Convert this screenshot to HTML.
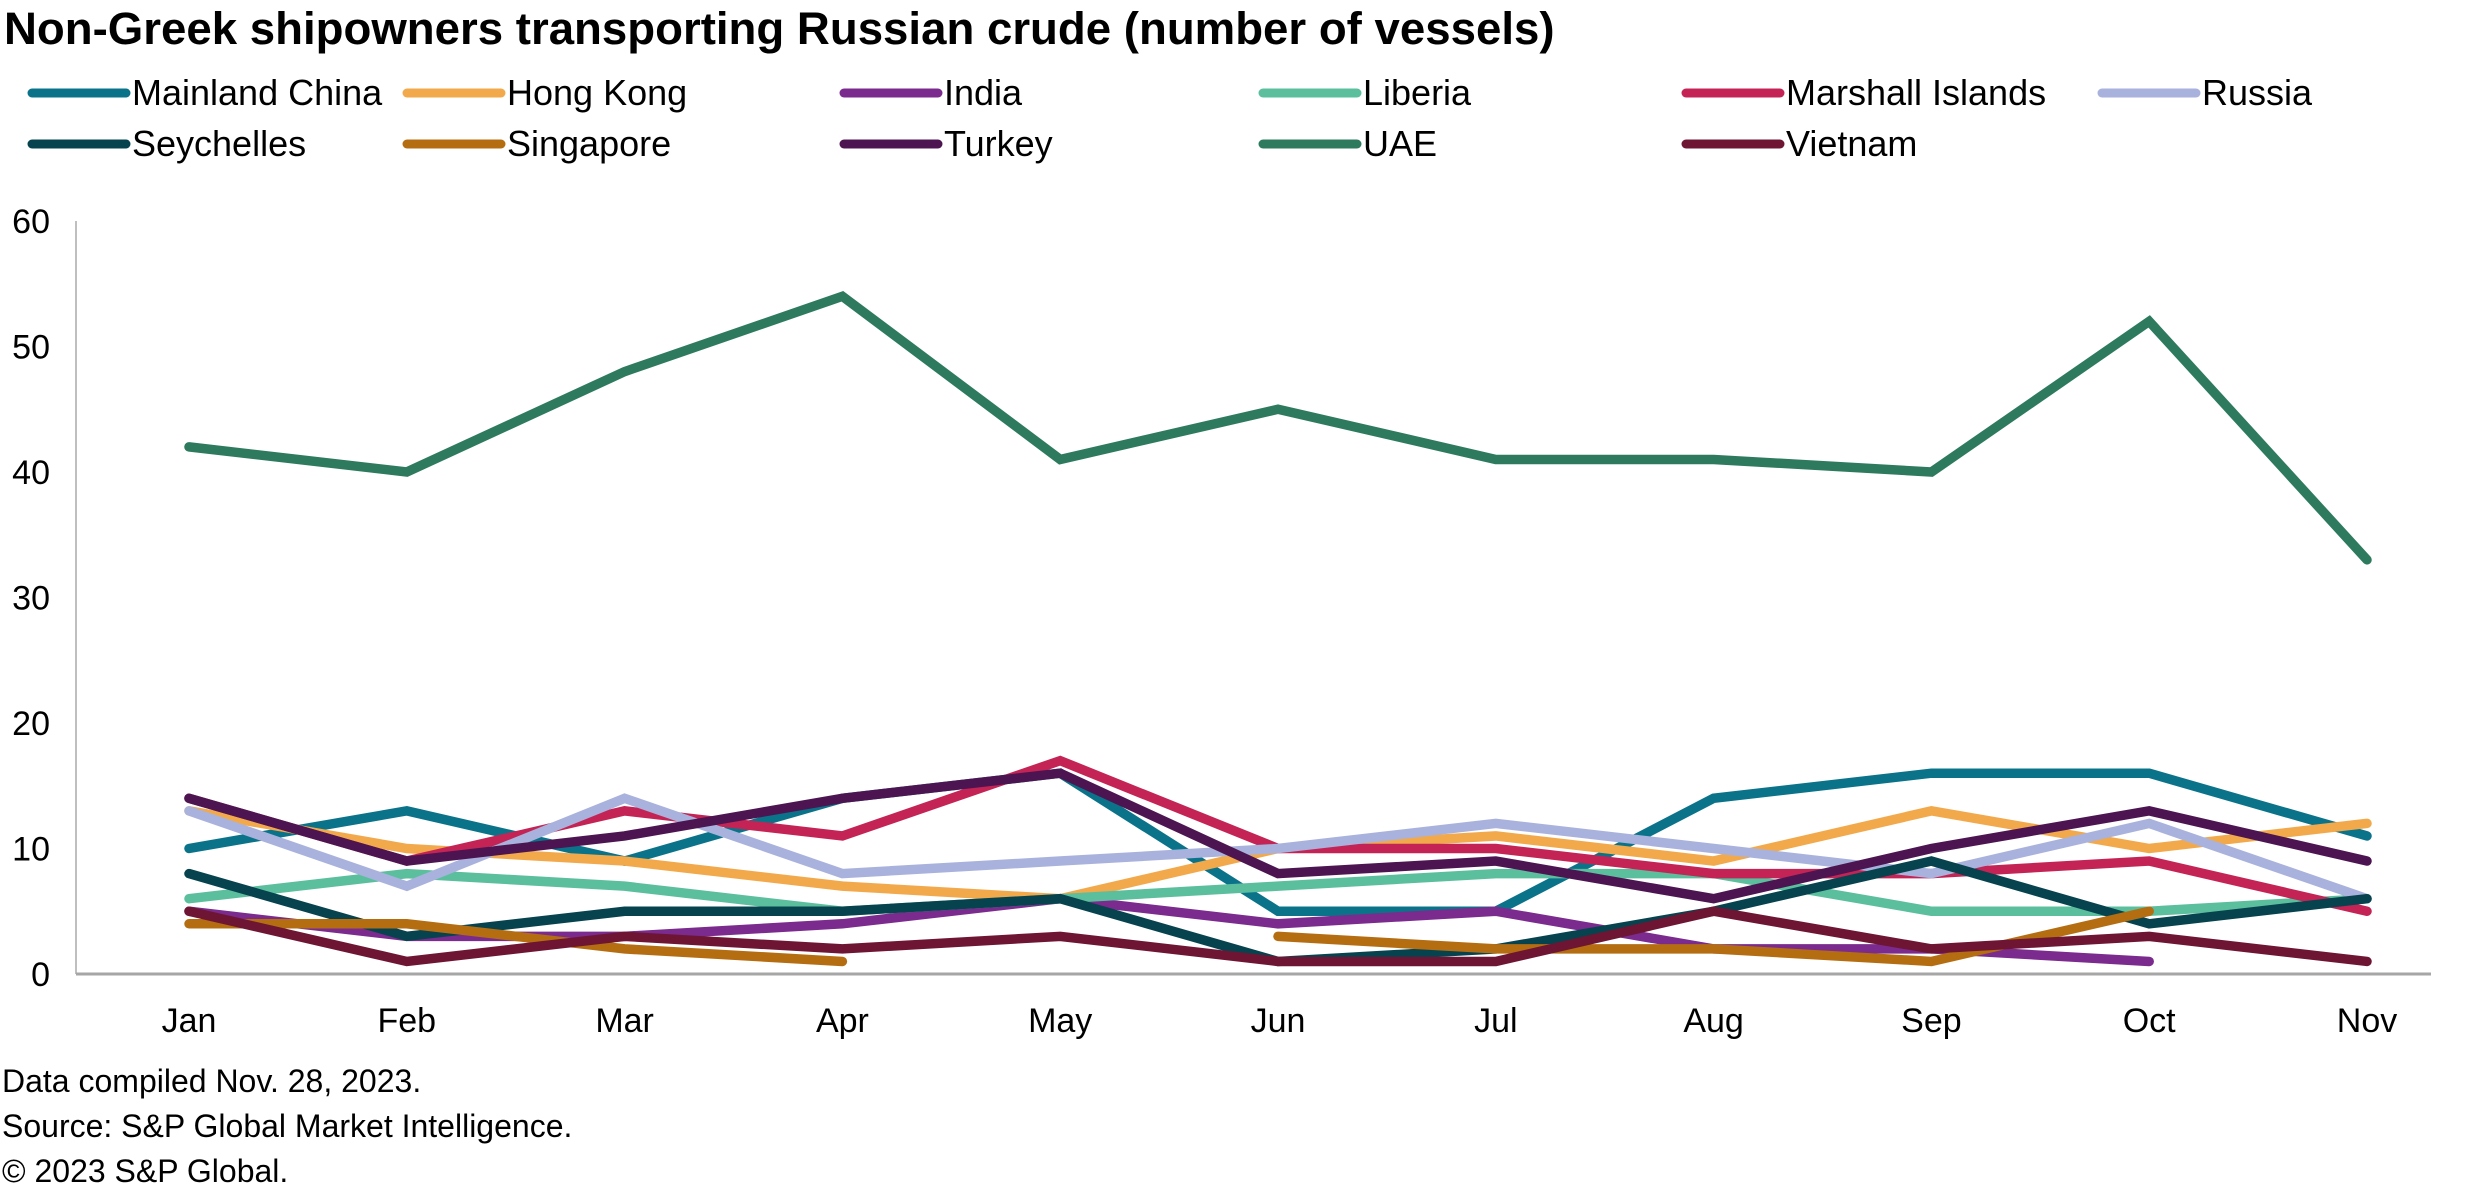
<!DOCTYPE html>
<html><head><meta charset="utf-8"><style>
body{margin:0;background:#fff;font-family:"Liberation Sans",Arial,sans-serif}
svg{display:block}
</style></head><body>
<svg id="c" width="2475" height="1188" viewBox="0 0 2475 1188">
<text x="4" y="44" font-size="45.6" font-weight="bold" fill="#000">Non-Greek shipowners transporting Russian crude (number of vessels)</text>
<g id="legend"></g>
<line x1="76" y1="221" x2="76" y2="974" stroke="#bfbfbf" stroke-width="2"/>
<line x1="76" y1="974" x2="2431" y2="974" stroke="#a6a6a6" stroke-width="3"/>
<g id="yt"></g><g id="xt"></g><g id="lines"></g>
<text x="2" y="1092" font-size="32" fill="#000">Data compiled Nov. 28, 2023.</text>
<text x="2" y="1137" font-size="32" fill="#000">Source: S&amp;P Global Market Intelligence.</text>
<text x="2" y="1182" font-size="32" fill="#000">© 2023 S&amp;P Global.</text>
</svg>
<script>
const months=["Jan","Feb","Mar","Apr","May","Jun","Jul","Aug","Sep","Oct","Nov"];
const yTicks=[0,10,20,30,40,50,60];
const seriesNames=["Mainland China","Hong Kong","India","Liberia","Marshall Islands","Russia","Seychelles","Singapore","Turkey","UAE","Vietnam"];
const seriesColors=["#0b7389","#f2a94b","#7b2a8e","#5bbf9e","#c42455","#a9b2dc","#06434e","#b56d12","#4c1551","#2e7a5e","#6e1533"];
const mainlandChina=[10,13,9,14,16,5,5,14,16,16,11];
const hongKong=[13,10,9,7,6,10,11,9,13,10,12];
const india=[5,3,3,4,6,4,5,2,2,1,null];
const liberia=[6,8,7,5,6,7,8,8,5,5,6];
const marshallIslands=[14,9,13,11,17,10,10,8,8,9,5];
const russia=[13,7,14,8,9,10,12,10,8,12,6];
const seychelles=[8,3,5,5,6,1,2,5,9,4,6];
const singapore=[4,4,2,1,null,3,2,2,1,5,null];
const turkey=[14,9,11,14,16,8,9,6,10,13,9];
const uae=[42,40,48,54,41,45,41,41,40,52,33];
const vietnam=[5,1,3,2,3,1,1,5,2,3,1];
const allSeries=[mainlandChina,hongKong,india,liberia,marshallIslands,russia,seychelles,singapore,turkey,uae,vietnam];
const NS="http://www.w3.org/2000/svg";
const X=i=>189+i*217.8, Y=v=>974-v*(753/60);
function mk(t,a,p){const e=document.createElementNS(NS,t);for(const k in a)e.setAttribute(k,a[k]);p.appendChild(e);return e;}
const yt=document.getElementById('yt');
yTicks.forEach(v=>{const t=mk('text',{x:50,y:Y(v)+12,'font-size':34,'text-anchor':'end',fill:'#000'},yt);t.textContent=v;

});
const xt=document.getElementById('xt');
months.forEach((m,i)=>{const t=mk('text',{x:X(i),y:1032,'font-size':34,'text-anchor':'middle',fill:'#000'},xt);t.textContent=m;

});
const lg=document.getElementById('legend');
const lx=[32,407,844,1263,1686,2102];
seriesNames.forEach((n,i)=>{const r=Math.floor(i/6),c=i%6;const y=r?144:93;
const g=mk('g',{},lg);


mk('line',{x1:lx[c],y1:y,x2:lx[c]+94,y2:y,stroke:seriesColors[i],'stroke-width':9,'stroke-linecap':'round'},g);
const t=mk('text',{x:lx[c]+100,y:y+12,'font-size':36,fill:'#000'},g);t.textContent=n;});
const lines=document.getElementById('lines');
allSeries.forEach((s,si)=>{let d='',pen=false;
s.forEach((v,i)=>{if(v==null){pen=false;return;}d+=(pen?'L':'M')+X(i)+' '+Y(v)+' ';pen=true;});
const p=mk('path',{d:d,fill:'none',stroke:seriesColors[si],'stroke-width':9.5,'stroke-linejoin':'miter','stroke-linecap':'round'},lines);

});
</script>
</body></html>
